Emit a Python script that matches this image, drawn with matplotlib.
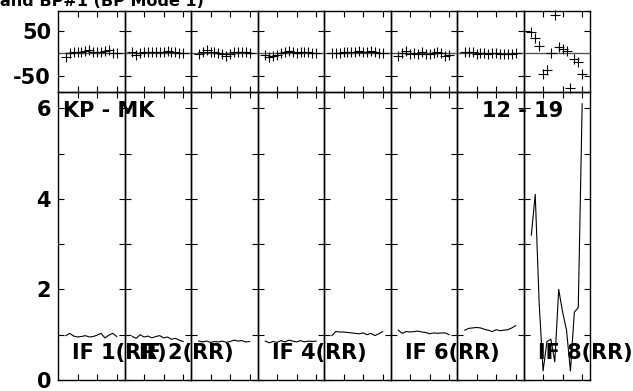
import matplotlib
matplotlib.use("Agg")
import matplotlib.pyplot as plt
from matplotlib.ticker import NullFormatter

plt.rcParams["font.family"] = ["DejaVu Sans"]
plt.rcParams["font.weight"] = "bold"

# channels plotted in each IF (first and last flagged)
channels = list(range(2, 16))
if_names = ["IF 1(RR)", "IF 2(RR)", "IF 3(RR)", "IF 4(RR)",
            "IF 5(RR)", "IF 6(RR)", "IF 7(RR)", "IF 8(RR)"]
# which IF labels AIPS actually printed
labelled = [True, True, False, True, False, True, False, True]

phase = [
    [-8, 1, 3, 4, 3, 6, 8, 4, 2, 2, 5, 7, 1, 0],
    [4, -3, 1, 2, 3, 2, 3, 4, 3, 5, 2, 3, 1, 0],
    [-2, 3, 7, 3, 3, 0, -2, -5, -2, 2, 2, 4, 2, 1],
    [-3, -8, -7, -3, 0, 2, 5, 3, 1, 2, 2, 3, 1, 1],
    [0, 1, 1, 2, 3, 3, 4, 5, 3, 4, 6, 3, 1, 0],
    [-6, 0, 5, -2, 1, -2, 4, -2, -2, 0, 3, 1, -5, -4],
    [2, 3, 4, -2, 0, 1, -2, 1, 1, -2, -2, -1, -1, 0],
    [48, 35, 16, -47, -36, 1, 85, 13, 9, 5, -77, -12, -20, -46],
]

amp = [
    [0.98, 1.03, 0.97, 0.95, 0.96, 0.98, 0.95, 0.96, 0.99, 1.03, 0.93, 0.99, 1.03, 0.96],
    [0.96, 0.92, 1.00, 0.95, 0.97, 0.93, 0.96, 0.98, 0.93, 0.95, 0.90, 0.92, 0.88, 0.85],
    [0.86, 0.84, 0.86, 0.83, 0.85, 0.84, 0.86, 0.83, 0.85, 0.88, 0.86, 0.87, 0.84, 0.85],
    [0.86, 0.82, 0.85, 0.83, 0.87, 0.84, 0.88, 0.86, 0.84, 0.87, 0.84, 0.86, 0.85, 0.86],
    [0.98, 1.07, 1.06, 1.06, 1.05, 1.04, 1.03, 1.02, 1.04, 1.00, 1.03, 0.98, 1.02, 1.07],
    [1.10, 1.03, 1.07, 1.06, 1.07, 1.08, 1.06, 1.05, 1.02, 1.04, 1.03, 1.04, 1.04, 1.00],
    [1.10, 1.14, 1.15, 1.16, 1.15, 1.12, 1.10, 1.07, 1.11, 1.09, 1.10, 1.11, 1.15, 1.20],
    [3.2, 4.1, 1.7, 0.2, 0.85, 0.9, 0.4, 2.0, 1.5, 1.1, 0.2, 1.5, 1.6, 6.1],
]

amp_ticks = [0, 1, 2, 3, 4, 5, 6]
amp_labels = ["0", "", "2", "", "4", "", "6"]
phase_ticks = [-50, 50]
phase_labels = ["-50", "50"]

W, H = 633, 391
fig = plt.figure(figsize=(W / 100, H / 100), dpi=100)

left, right = 58 / W, 590 / W
ptop, split, bot = 1 - 11 / H, 1 - 92 / H, 1 - 380 / H
n = len(if_names)
pw = (right - left) / n

FS = 15

for i in range(n):
    x0 = left + i * pw
    axp = fig.add_axes([x0, split, pw, ptop - split])
    axa = fig.add_axes([x0, bot, pw, split - bot])
    for ax in (axp, axa):
        ax.set_facecolor("none")
        ax.set_xlim(0, 17)
        ax.set_xticks([5, 10, 15])
        ax.xaxis.set_major_formatter(NullFormatter())
        ax.tick_params(direction="in", top=True, right=True, length=4.5,
                       width=0.8, labelsize=FS, pad=5)
        for s in ax.spines.values():
            s.set_linewidth(1.0)
    axp.axhline(0, color="#555555", lw=1.0)
    axp.plot(channels, phase[i], "+", color="black", ms=7, mew=0.8,
             clip_on=False)
    axp.set_ylim(-86, 94)
    axp.set_yticks(phase_ticks)
    axa.plot(channels, amp[i], color="black", lw=0.8)
    axa.set_ylim(0, 6.36)
    axa.set_yticks(amp_ticks)
    if i == 0:
        axp.set_yticklabels(phase_labels)
        axa.set_yticklabels(amp_labels)
        axa.text(1.3, 5.95, "KP - MK", fontsize=FS, fontweight="bold",
                 va="center", ha="left", zorder=10)
    else:
        axp.yaxis.set_major_formatter(NullFormatter())
        axa.yaxis.set_major_formatter(NullFormatter())
    if i == n - 1:
        axa.text(-10.5, 5.95, "12 - 19", fontsize=FS, fontweight="bold",
                 va="center", ha="left", clip_on=False, zorder=10)
    if labelled[i]:
        axa.text(3.7, 0.6, if_names[i], fontsize=FS, fontweight="bold",
                 va="center", ha="left", clip_on=False, zorder=10)

fig.text(0.0, 1 - 6 / H, "and BP#1 (BP Mode 1)", fontsize=11.5,
         fontweight="bold", ha="left", va="baseline")

fig.savefig("out.png", dpi=100)
